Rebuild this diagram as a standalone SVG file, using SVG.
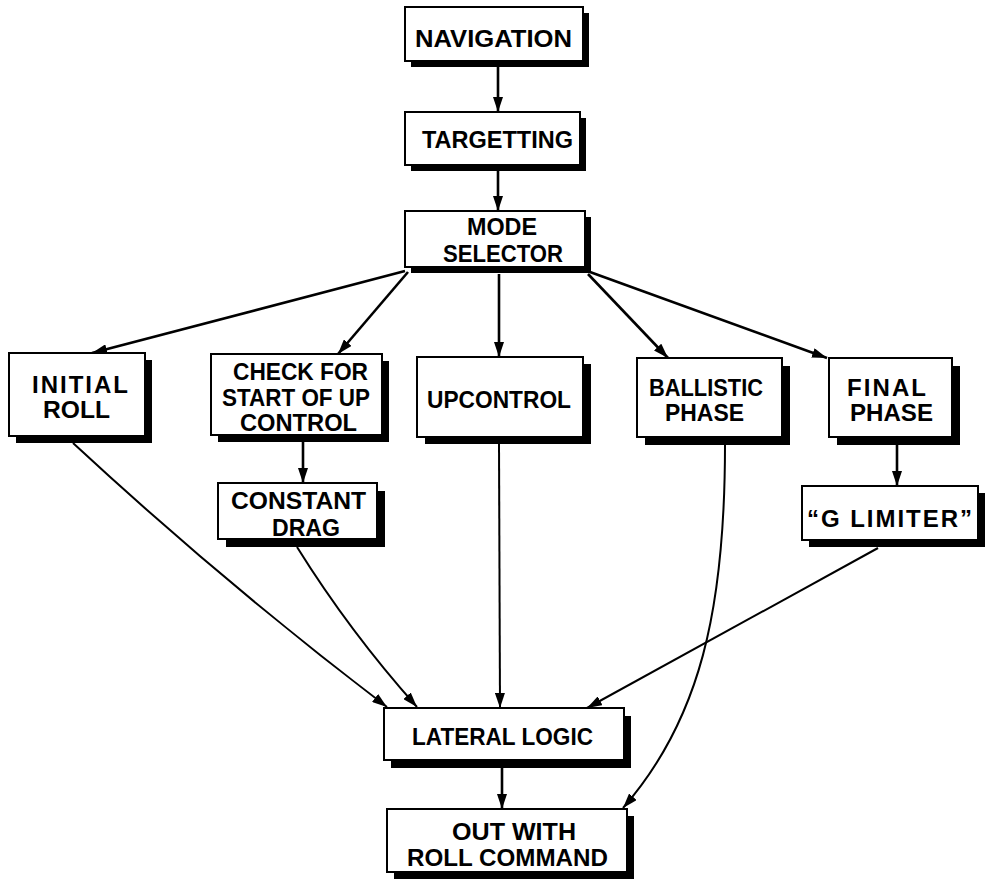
<svg xmlns="http://www.w3.org/2000/svg" width="986" height="885" viewBox="0 0 986 885">
<defs>
<style>
.sh{fill:#000}
.bx{fill:#fff;stroke:#000;stroke-width:2}
text{font-family:"Liberation Sans","DejaVu Sans",Arial,sans-serif;font-weight:bold;font-size:24px;fill:#000}
.c{fill:none;stroke:#000;stroke-width:2}
.t{fill:none;stroke:#000;stroke-width:2.6}
</style>
<marker id="ah" viewBox="0 0 15 10" refX="15" refY="5" markerWidth="15" markerHeight="10" markerUnits="userSpaceOnUse" orient="auto">
<path d="M0,0 L15,5 L0,10 z" fill="#000"/>
</marker>
</defs>
<rect width="986" height="885" fill="#fff"/>
<g id="connectors">
<path class="t" d="M498,66 L498,112" marker-end="url(#ah)"/>
<path class="t" d="M498,170 L498,211" marker-end="url(#ah)"/>
<path class="t" d="M405,271 L92,353" marker-end="url(#ah)"/>
<path class="t" d="M408,272 L338,354" marker-end="url(#ah)"/>
<path class="t" d="M499,274 L499,357" marker-end="url(#ah)"/>
<path class="t" d="M588,274 L668,358" marker-end="url(#ah)"/>
<path class="t" d="M590,272 L827,358" marker-end="url(#ah)"/>
<path class="t" d="M303,442 L303,483" marker-end="url(#ah)"/>
<path class="t" d="M897,444 L897,486" marker-end="url(#ah)"/>
<path class="c" d="M73,443 Q224,583 387,707" marker-end="url(#ah)"/>
<path class="c" d="M297,547 Q350,632 417,707" marker-end="url(#ah)"/>
<path class="c" d="M499,444 L500,708" marker-end="url(#ah)"/>
<path class="c" d="M725,445 C725,610 700,720 623,808" marker-end="url(#ah)"/>
<path class="c" d="M878,548 L587,708" marker-end="url(#ah)"/>
<path class="t" d="M502,768 L502,809" marker-end="url(#ah)"/>
</g>
<g id="navigation">
<rect class="sh" x="411" y="13" width="178" height="54"/>
<rect class="bx" x="405" y="7" width="178" height="54"/>
<text x="415" y="47" textLength="157" lengthAdjust="spacingAndGlyphs">NAVIGATION</text>
</g>
<g id="targetting">
<rect class="sh" x="411" y="118" width="175" height="53"/>
<rect class="bx" x="405" y="112" width="175" height="53"/>
<text x="422" y="148" textLength="151" lengthAdjust="spacingAndGlyphs">TARGETTING</text>
</g>
<g id="mode-selector">
<rect class="sh" x="411" y="217" width="180" height="56"/>
<rect class="bx" x="405" y="211" width="180" height="56"/>
<text x="467" y="235" textLength="70" lengthAdjust="spacingAndGlyphs">MODE</text>
<text x="443" y="262" textLength="120" lengthAdjust="spacingAndGlyphs">SELECTOR</text>
</g>
<g id="initial-roll">
<rect class="sh" x="16" y="360" width="136" height="83"/>
<rect class="bx" x="9" y="353" width="136" height="83"/>
<text x="32" y="393" textLength="96" lengthAdjust="spacing">INITIAL</text>
<text x="43" y="418" textLength="67" lengthAdjust="spacingAndGlyphs">ROLL</text>
</g>
<g id="check-start">
<rect class="sh" x="218" y="361" width="171" height="81"/>
<rect class="bx" x="211" y="354" width="171" height="81"/>
<text x="233" y="380" textLength="135" lengthAdjust="spacingAndGlyphs">CHECK FOR</text>
<text x="222" y="406" textLength="148" lengthAdjust="spacingAndGlyphs">START OF UP</text>
<text x="240" y="431" textLength="117" lengthAdjust="spacingAndGlyphs">CONTROL</text>
</g>
<g id="upcontrol">
<rect class="sh" x="425" y="364" width="166" height="80"/>
<rect class="bx" x="417" y="357" width="166" height="80"/>
<text x="427" y="408" textLength="144" lengthAdjust="spacingAndGlyphs">UPCONTROL</text>
</g>
<g id="ballistic-phase">
<rect class="sh" x="645" y="366" width="145" height="79"/>
<rect class="bx" x="637" y="358" width="145" height="79"/>
<text x="649" y="396" textLength="114" lengthAdjust="spacingAndGlyphs">BALLISTIC</text>
<text x="665" y="421" textLength="79" lengthAdjust="spacingAndGlyphs">PHASE</text>
</g>
<g id="final-phase">
<rect class="sh" x="837" y="366" width="123" height="79"/>
<rect class="bx" x="829" y="358" width="123" height="79"/>
<text x="847" y="396" textLength="79" lengthAdjust="spacing">FINAL</text>
<text x="850" y="421" textLength="83" lengthAdjust="spacingAndGlyphs">PHASE</text>
</g>
<g id="constant-drag">
<rect class="sh" x="226" y="491" width="159" height="56"/>
<rect class="bx" x="218" y="483" width="159" height="56"/>
<text x="231" y="509" textLength="135" lengthAdjust="spacingAndGlyphs">CONSTANT</text>
<text x="272" y="536" textLength="68" lengthAdjust="spacingAndGlyphs">DRAG</text>
</g>
<g id="g-limiter">
<rect class="sh" x="809" y="493" width="176" height="54"/>
<rect class="bx" x="802" y="486" width="176" height="54"/>
<text x="807" y="527" textLength="165" lengthAdjust="spacing">“G LIMITER”</text>
</g>
<g id="lateral-logic">
<rect class="sh" x="391" y="716" width="240" height="52"/>
<rect class="bx" x="384" y="708" width="240" height="52"/>
<text x="412" y="745" textLength="181" lengthAdjust="spacingAndGlyphs">LATERAL LOGIC</text>
</g>
<g id="out-roll-command">
<rect class="sh" x="394" y="816" width="240" height="63"/>
<rect class="bx" x="387" y="809" width="240" height="63"/>
<text x="452" y="840" textLength="124" lengthAdjust="spacingAndGlyphs">OUT WITH</text>
<text x="407" y="866" textLength="201" lengthAdjust="spacingAndGlyphs">ROLL COMMAND</text>
</g>
</svg>
